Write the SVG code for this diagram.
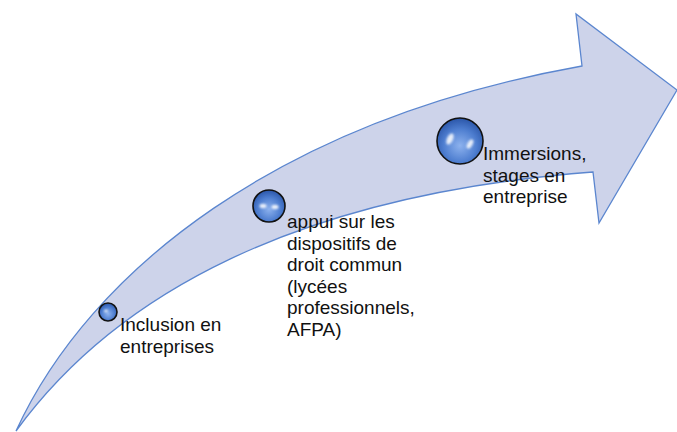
<svg xmlns="http://www.w3.org/2000/svg" width="677" height="432" viewBox="0 0 677 432">
<style>
.arrow{fill:#CDD3EA;stroke:#5B86CF;stroke-width:1.3;stroke-linejoin:miter}
.ball{fill:url(#sph);stroke:#111;stroke-width:1.6}
.hl{fill:#fff;opacity:0.85}
.lbl{font-family:"Liberation Sans",Arial,sans-serif;font-size:19px;fill:#111}
</style>
<defs>
<radialGradient id="sph" cx="0.5" cy="0.6" r="0.6">
<stop offset="0" stop-color="#8DB2EE"/>
<stop offset="0.6" stop-color="#4E7ED0"/>
<stop offset="1" stop-color="#2A55A8"/>
</radialGradient>
<filter id="blur" x="-50%" y="-50%" width="200%" height="200%"><feGaussianBlur stdDeviation="0.8"/></filter>
</defs>
<g id="arrow">
<path class="arrow" d="M16 431 C90 270 280 120 582 66 L576 14 L677 90 L599 223 L593 172 C295 195 115 295 16 431 Z"/>
</g>
<g id="connectors"></g>
<g id="node1">
<circle class="ball" cx="108" cy="312" r="9"/>
<ellipse class="hl" cx="106" cy="311" rx="2" ry="1.2" filter="url(#blur)"/>
<text class="lbl" x="120" y="331">Inclusion en</text>
<text class="lbl" x="120" y="352.5">entreprises</text>
</g>
<g id="node2">
<circle class="ball" cx="269" cy="206" r="16"/>
<ellipse class="hl" cx="263" cy="206" rx="3.5" ry="2.2" filter="url(#blur)"/>
<ellipse class="hl" cx="275" cy="207" rx="3.5" ry="2.2" filter="url(#blur)"/>
<text class="lbl" x="287" y="228">appui sur les</text>
<text class="lbl" x="287" y="249.5">dispositifs de</text>
<text class="lbl" x="287" y="271">droit commun</text>
<text class="lbl" x="287" y="292.5">(lycées</text>
<text class="lbl" x="287" y="314">professionnels,</text>
<text class="lbl" x="287" y="335.5">AFPA)</text>
</g>
<g id="node3">
<circle class="ball" cx="460" cy="141" r="23"/>
<ellipse class="hl" cx="450" cy="139" rx="3" ry="6" transform="rotate(25 450 139)" filter="url(#blur)"/>
<ellipse class="hl" cx="470" cy="144" rx="2.5" ry="5" transform="rotate(30 470 144)" filter="url(#blur)"/>
<text class="lbl" x="483" y="160">Immersions,</text>
<text class="lbl" x="483" y="181.5">stages en</text>
<text class="lbl" x="483" y="203">entreprise</text>
</g>
</svg>
